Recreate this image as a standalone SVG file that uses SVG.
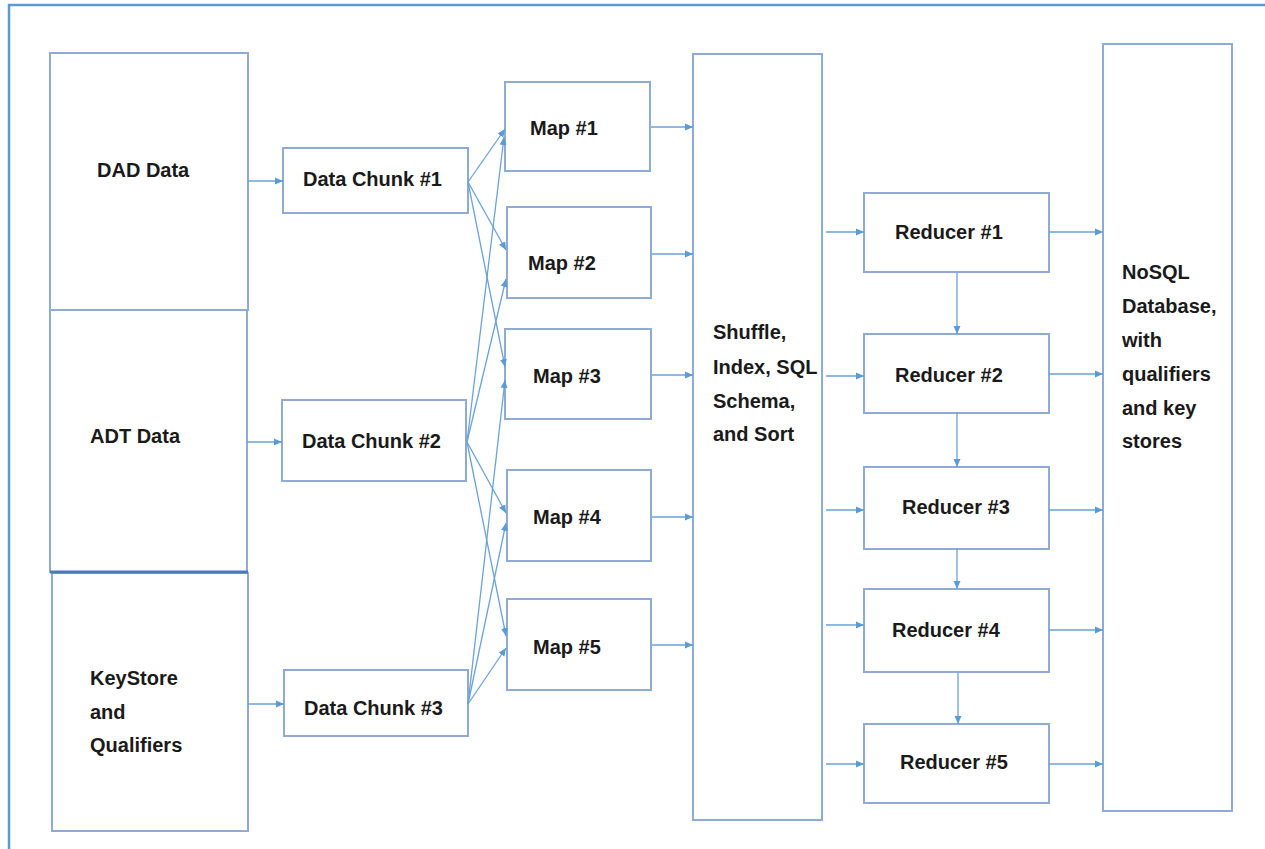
<svg xmlns="http://www.w3.org/2000/svg" width="1265" height="849" viewBox="0 0 1265 849">
  <defs>
    <marker id="arr" viewBox="0 0 8 8" refX="8" refY="4" markerWidth="8" markerHeight="8" markerUnits="userSpaceOnUse" orient="auto">
      <path d="M0,0.5 L8,4 L0,7.5 z" fill="#5b9bd5"/>
    </marker>
  </defs>
  <style>
    .box { fill: #ffffff; stroke: #8fabd3; stroke-width: 2; }
    .lbl { font-family: "Liberation Sans", Arial, sans-serif; font-weight: bold; font-size: 20px; fill: #1a1a1a; }
    .conn line { stroke: #6aa2da; stroke-width: 1.3; marker-end: url(#arr); }
  </style>
  <rect x="0" y="0" width="1265" height="849" fill="#ffffff"/>
  <!-- outer frame (top and left edges visible) -->
  <path d="M9,849 L9,5 L1265,5" fill="none" stroke="#5b9bd5" stroke-width="2.5"/>

  <!-- sources -->
  <g id="dad-data">
    <rect class="box" x="50" y="53" width="198" height="257"/>
    <text class="lbl" x="97" y="177">DAD Data</text>
  </g>
  <g id="adt-data">
    <rect class="box" x="50" y="310" width="197" height="262"/>
    <text class="lbl" x="90" y="443">ADT Data</text>
  </g>
  <g id="keystore">
    <rect class="box" x="52" y="573" width="196" height="258"/>
    <line x1="50" y1="572" x2="248" y2="572" stroke="#4a7ab3" stroke-width="3"/>
    <text class="lbl" x="90" y="685">KeyStore</text>
    <text class="lbl" x="90" y="719">and</text>
    <text class="lbl" x="90" y="752">Qualifiers</text>
  </g>

  <!-- data chunks -->
  <g id="chunk-1">
    <rect class="box" x="283" y="148" width="185" height="65"/>
    <text class="lbl" x="303" y="186">Data Chunk #1</text>
  </g>
  <g id="chunk-2">
    <rect class="box" x="282" y="400" width="184" height="81"/>
    <text class="lbl" x="302" y="448">Data Chunk #2</text>
  </g>
  <g id="chunk-3">
    <rect class="box" x="284" y="670" width="184" height="66"/>
    <text class="lbl" x="304" y="715">Data Chunk #3</text>
  </g>

  <!-- map tasks -->
  <g id="map-1">
    <rect class="box" x="505" y="82" width="145" height="89"/>
    <text class="lbl" x="530" y="135">Map #1</text>
  </g>
  <g id="map-2">
    <rect class="box" x="507" y="207" width="144" height="91"/>
    <text class="lbl" x="528" y="270">Map #2</text>
  </g>
  <g id="map-3">
    <rect class="box" x="505" y="329" width="146" height="90"/>
    <text class="lbl" x="533" y="383">Map #3</text>
  </g>
  <g id="map-4">
    <rect class="box" x="507" y="470" width="144" height="91"/>
    <text class="lbl" x="533" y="524">Map #4</text>
  </g>
  <g id="map-5">
    <rect class="box" x="507" y="599" width="144" height="91"/>
    <text class="lbl" x="533" y="654">Map #5</text>
  </g>

  <!-- shuffle stage -->
  <g id="shuffle">
    <rect class="box" x="693" y="54" width="129" height="766"/>
    <text class="lbl" x="713" y="339">Shuffle,</text>
    <text class="lbl" x="713" y="374">Index, SQL</text>
    <text class="lbl" x="713" y="408">Schema,</text>
    <text class="lbl" x="713" y="441">and Sort</text>
  </g>

  <!-- reducers -->
  <g id="reducer-1">
    <rect class="box" x="864" y="193" width="185" height="79"/>
    <text class="lbl" x="895" y="239">Reducer #1</text>
  </g>
  <g id="reducer-2">
    <rect class="box" x="864" y="334" width="185" height="79"/>
    <text class="lbl" x="895" y="382">Reducer #2</text>
  </g>
  <g id="reducer-3">
    <rect class="box" x="864" y="467" width="185" height="82"/>
    <text class="lbl" x="902" y="514">Reducer #3</text>
  </g>
  <g id="reducer-4">
    <rect class="box" x="864" y="589" width="185" height="83"/>
    <text class="lbl" x="892" y="637">Reducer #4</text>
  </g>
  <g id="reducer-5">
    <rect class="box" x="864" y="724" width="185" height="79"/>
    <text class="lbl" x="900" y="769">Reducer #5</text>
  </g>

  <!-- sink -->
  <g id="nosql">
    <rect class="box" x="1103" y="44" width="129" height="767"/>
    <text class="lbl" x="1122" y="279">NoSQL</text>
    <text class="lbl" x="1122" y="313">Database,</text>
    <text class="lbl" x="1122" y="347">with</text>
    <text class="lbl" x="1122" y="381">qualifiers</text>
    <text class="lbl" x="1122" y="415">and key</text>
    <text class="lbl" x="1122" y="448">stores</text>
  </g>

  <g id="connectors" class="conn">
    <!-- sources to chunks -->
    <line x1="248" y1="181" x2="283" y2="181"/>
    <line x1="247" y1="442" x2="282" y2="442"/>
    <line x1="248" y1="704" x2="284" y2="704"/>
    <!-- chunk 1 to maps -->
    <line x1="468" y1="182" x2="505" y2="129"/>
    <line x1="468" y1="182" x2="506" y2="250"/>
    <line x1="468" y1="182" x2="505" y2="367"/>
    <!-- chunk 2 to maps -->
    <line x1="467" y1="442" x2="504" y2="137"/>
    <line x1="467" y1="442" x2="506" y2="279"/>
    <line x1="467" y1="442" x2="506" y2="513"/>
    <line x1="467" y1="442" x2="506" y2="636"/>
    <!-- chunk 3 to maps -->
    <line x1="468" y1="704" x2="505" y2="380"/>
    <line x1="468" y1="704" x2="506" y2="523"/>
    <line x1="468" y1="704" x2="506" y2="648"/>
    <!-- maps to shuffle -->
    <line x1="651" y1="127" x2="693" y2="127"/>
    <line x1="652" y1="254" x2="693" y2="254"/>
    <line x1="652" y1="375" x2="693" y2="375"/>
    <line x1="652" y1="517" x2="693" y2="517"/>
    <line x1="652" y1="645" x2="693" y2="645"/>
    <!-- shuffle to reducers -->
    <line x1="826" y1="232" x2="864" y2="232"/>
    <line x1="826" y1="376" x2="864" y2="376"/>
    <line x1="826" y1="510" x2="864" y2="510"/>
    <line x1="826" y1="625" x2="864" y2="625"/>
    <line x1="826" y1="764" x2="864" y2="764"/>
    <!-- reducer chain -->
    <line x1="957" y1="272" x2="957" y2="334"/>
    <line x1="957" y1="413" x2="957" y2="467"/>
    <line x1="957" y1="549" x2="957" y2="589"/>
    <line x1="958" y1="672" x2="958" y2="724"/>
    <!-- reducers to database -->
    <line x1="1049" y1="232" x2="1103" y2="232"/>
    <line x1="1049" y1="374" x2="1103" y2="374"/>
    <line x1="1049" y1="510" x2="1103" y2="510"/>
    <line x1="1049" y1="630" x2="1103" y2="630"/>
    <line x1="1049" y1="764" x2="1103" y2="764"/>
  </g>
</svg>
